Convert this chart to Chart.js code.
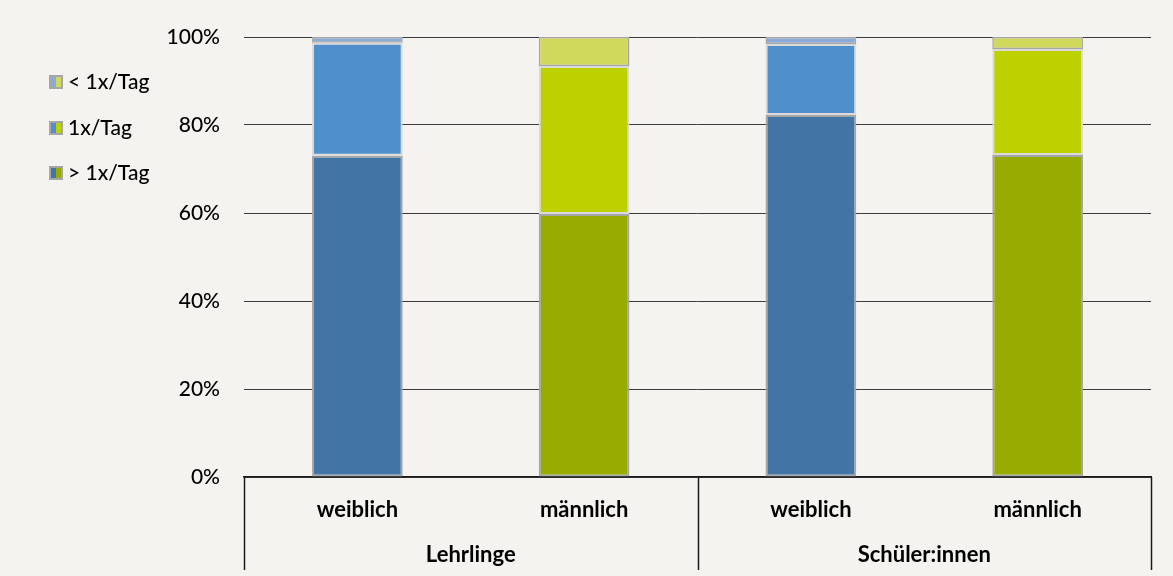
<!DOCTYPE html>
<html>
<head>
<meta charset="utf-8">
<script src="https://cdn.jsdelivr.net/npm/chart.js@4.4.0/dist/chart.umd.min.js"></script>
<style>
  html, body { margin: 0; padding: 0; background: #F4F3EF; }
  #wrap { width: 1173px; height: 576px; }
</style>
</head>
<body>
<div id="wrap"><canvas id="barChart" width="1173" height="576"></canvas></div>
<script>
const groups = ['Lehrlinge', 'Schüler:innen'];
const categories = ['weiblich', 'männlich', 'weiblich', 'männlich'];
const seriesNames = ['> 1x/Tag', '1x/Tag', '< 1x/Tag'];
const moreThanOnce = [73.0, 59.8, 82.3, 73.2];
const once = [25.7, 33.6, 16.1, 24.1];
const lessThanOnce = [1.3, 6.6, 1.6, 2.7];
const yTicks = [0, 20, 40, 60, 80, 100];

// blue for girls, green for boys, light -> dark by frequency
const blues = ['#4275A5', '#4F8FCB', '#8AAAD8'];
const greens = ['#98AB00', '#BDD000', '#D1D95C'];
const borders = ['#A6A6A6', '#DADADA', '#A6A6A6'];
const borderWidths = [2, 2, 1.5];
const FONT = 'Lato, "Open Sans", sans-serif';

function barColors(i) {
  return categories.map((c, k) => (k % 2 === 0 ? blues[i] : greens[i]));
}

const values = [moreThanOnce, once, lessThanOnce];
const datasets = seriesNames.map((name, i) => ({
  label: name,
  data: values[i],
  backgroundColor: barColors(i),
  borderColor: borders[i],
  borderWidth: borderWidths[i],
  borderSkipped: false,
  barPercentage: 0.4,
  categoryPercentage: 1.0
}));

// legend on the left, boxes split blue / green
const sideLegend = {
  id: 'sideLegend',
  afterDraw(chart) {
    const ctx = chart.ctx;
    const rows = [82, 128, 173];
    ctx.save();
    ctx.font = '500 21px ' + FONT;
    ctx.textBaseline = 'middle';
    for (let r = 0; r < 3; r++) {
      const s = 2 - r;
      const y = rows[r];
      ctx.fillStyle = '#A6A6A6';
      ctx.fillRect(49, y - 7, 14, 14);
      ctx.fillStyle = blues[s];
      ctx.fillRect(51, y - 5, 5, 10);
      ctx.fillStyle = greens[s];
      ctx.fillRect(56, y - 5, 5, 10);
      ctx.fillStyle = '#000';
      ctx.textAlign = 'left';
      ctx.fillText(seriesNames[s], 68, y);
    }
    ctx.restore();
  }
};

// second label row (groups) and the separator lines under the axis
const groupAxis = {
  id: 'groupAxis',
  afterDraw(chart) {
    const ctx = chart.ctx;
    const x = chart.scales.x;
    const area = chart.chartArea;
    const mid = (x.getPixelForValue(1) + x.getPixelForValue(2)) / 2;
    ctx.save();
    ctx.strokeStyle = '#1a1a1a';
    ctx.lineWidth = 1.5;
    [area.left, mid, area.right].forEach(px => {
      ctx.beginPath();
      ctx.moveTo(Math.round(px) + 0.5, area.bottom);
      ctx.lineTo(Math.round(px) + 0.5, 570);
      ctx.stroke();
    });
    ctx.font = 'bold 22px ' + FONT;
    ctx.fillStyle = '#000';
    ctx.textAlign = 'center';
    ctx.textBaseline = 'middle';
    groups.forEach((g, i) => {
      const cx = (x.getPixelForValue(i * 2) + x.getPixelForValue(i * 2 + 1)) / 2;
      ctx.fillText(g, cx, 555);
    });
    ctx.restore();
  }
};

const CHART = document.getElementById('barChart').getContext('2d');
let barChart = new Chart(CHART, {
  type: 'bar',
  data: { labels: categories, datasets: datasets },
  options: {
    responsive: false,
    animation: false,
    layout: { padding: { top: 37, right: 22, left: 0, bottom: 0 } },
    plugins: { legend: { display: false }, tooltip: { enabled: false } },
    scales: {
      x: {
        stacked: true,
        afterFit: s => { s.height = 99; },
        grid: { display: false, drawTicks: false },
        border: { display: true, color: '#1a1a1a', width: 1.5 },
        ticks: { color: '#000', padding: 20, font: { family: FONT, size: 22, weight: 'bold' } }
      },
      y: {
        stacked: true,
        min: 0,
        max: 100,
        afterFit: s => { s.width = 244; },
        afterBuildTicks: s => { s.ticks = yTicks.map(v => ({ value: v })); },
        grid: { color: '#3C3C3C', lineWidth: 1, drawTicks: false },
        border: { display: false },
        ticks: {
          color: '#000',
          padding: 24,
          font: { family: FONT, size: 21, weight: 500 },
          callback: v => v + '%'
        }
      }
    }
  },
  plugins: [sideLegend, groupAxis]
});
</script>
</body>
</html>
